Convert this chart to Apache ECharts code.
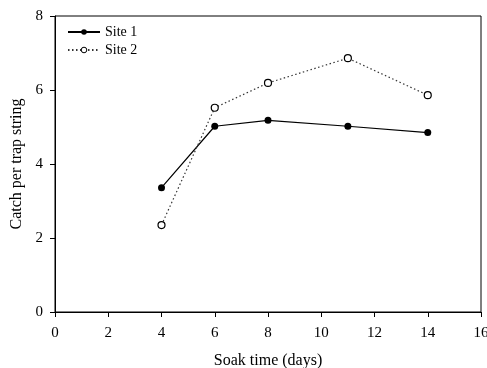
<!DOCTYPE html>
<html>
<head>
<meta charset="utf-8">
<script src="https://cdn.jsdelivr.net/npm/echarts@6/dist/echarts.min.js"></script>
<style>
  html, body { margin: 0; padding: 0; background: #fff; }
  #chart { width: 487px; height: 368px; }
</style>
</head>
<body>
<div id="chart"></div>
<script>
// soak time in days
var soakDays = [4, 6, 8, 11, 14];
// catch per trap string
var site1 = [3.36, 5.02, 5.18, 5.02, 4.85];
var site2 = [2.35, 5.52, 6.19, 6.86, 5.86];
var xTicks = [0, 2, 4, 6, 8, 10, 12, 14, 16];
var yTicks = [0, 2, 4, 6, 8];

function pairs(xs, ys) {
    return xs.map(function (x, i) { return [x, ys[i]]; });
}

var font = "'Liberation Serif', 'Times New Roman', serif";

var mcharts = echarts.init(document.getElementById('chart'));

var option = {
    animation: false,
    textStyle: { fontFamily: font, color: '#000' },
    grid: {
        left: 55, right: 6, top: 16, bottom: 56,
        outerBoundsMode: 'none',
        containLabel: false,
        show: true, borderColor: '#000', borderWidth: 1
    },
    legend: {
        left: 62, top: 20,
        orient: 'vertical',
        itemWidth: 32, itemHeight: 7, itemGap: 4,
        textStyle: { fontFamily: font, fontSize: 14, color: '#000' },
        data: [
            { name: 'Site 1', itemStyle: { color: '#000' } },
            { name: 'Site 2', itemStyle: { color: '#fff', borderColor: '#000', borderWidth: 1 } }
        ]
    },
    xAxis: {
        type: 'value',
        min: 0, max: 16, interval: 2,
        name: 'Soak time (days)',
        nameLocation: 'middle',
        nameGap: 41,
        nameTextStyle: { fontFamily: font, fontSize: 16, color: '#000' },
        axisLine: { onZero: false, lineStyle: { color: '#000', width: 1 } },
        axisTick: { length: 5, lineStyle: { color: '#000' } },
        axisLabel: { fontFamily: font, fontSize: 15, color: '#000', margin: 14 },
        splitLine: { show: false }
    },
    yAxis: {
        type: 'value',
        min: 0, max: 8, interval: 2,
        name: 'Catch per trap string',
        nameLocation: 'middle',
        nameGap: 27,
        nameTextStyle: { fontFamily: font, fontSize: 16, color: '#000' },
        axisLine: { show: true, lineStyle: { color: '#000', width: 1 } },
        axisTick: { show: true, length: 5, lineStyle: { color: '#000' } },
        axisLabel: { fontFamily: font, fontSize: 15, color: '#000', margin: 12 },
        splitLine: { show: false }
    },
    series: [
        {
            name: 'Site 1',
            type: 'line',
            data: pairs(soakDays, site1),
            symbol: 'circle',
            symbolSize: 7,
            itemStyle: { color: '#000' },
            lineStyle: { color: '#000', width: 1.2, type: 'solid' }
        },
        {
            name: 'Site 2',
            type: 'line',
            data: pairs(soakDays, site2),
            symbol: 'circle',
            symbolSize: 7,
            itemStyle: { color: '#fff', borderColor: '#000', borderWidth: 1.2 },
            lineStyle: { color: '#333', width: 1.2, type: [1.5, 2.5] }
        }
    ]
};

mcharts.setOption(option, true);
</script>
</body>
</html>
